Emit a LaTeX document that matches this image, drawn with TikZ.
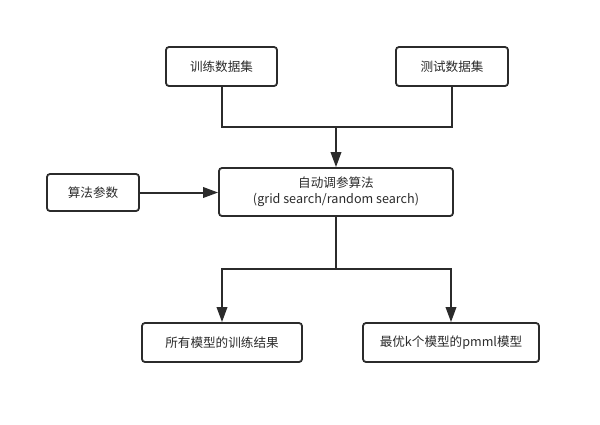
\documentclass[tikz,border=0pt]{standalone}
\usepackage{fontspec}
\setmainfont{Noto Sans CJK SC}
\usepackage{tikz}
\usetikzlibrary{arrows.meta}
\definecolor{linegray}{HTML}{2B2B2B}
\tikzset{
  box/.style={draw=linegray, line width=1.8pt, rounded corners=3pt, text=linegray,
    font=\fontsize{12.6}{16}\selectfont, align=center, inner sep=0pt},
  link/.style={draw=linegray, line width=2pt},
  arr/.style={link, -{Triangle[length=15pt,width=10.5pt]}}
}

\begin{document}
\begin{tikzpicture}[x=1pt,y=-1pt]
    \useasboundingbox (0,0) rectangle (600,424);
    \node[box, minimum width=111pt, minimum height=39pt] (train) at (221.5,66.5) {训练数据集};
    \node[box, minimum width=112pt, minimum height=39pt] (test) at (452,66.5) {测试数据集};
    \node[box, minimum width=234pt, minimum height=48pt] (algo) at (336,192) {自动调参算法\\(grid search/random search)};
    \node[box, minimum width=92pt, minimum height=37pt] (param) at (93,192.5) {算法参数};
    \node[box, minimum width=160pt, minimum height=39pt] (allres) at (222,342.5) {所有模型的训练结果};
    \node[box, minimum width=176pt, minimum height=39pt] (best) at (451,342.5) {最优k个模型的pmml模型};
    \coordinate (join) at (336,127);
    \coordinate (split) at (336,269);
    \draw[link] (train.south) |- (join) -| (test.south);
    \draw[arr] (join) -- (algo.north);
    \draw[arr] (param.east) -- (algo.west |- param.east);
    \draw[link] (algo.south) -- (split);
    \draw[arr] (split) -| (allres.north);
    \draw[arr] (split) -| (best.north);
\end{tikzpicture}
\end{document}
